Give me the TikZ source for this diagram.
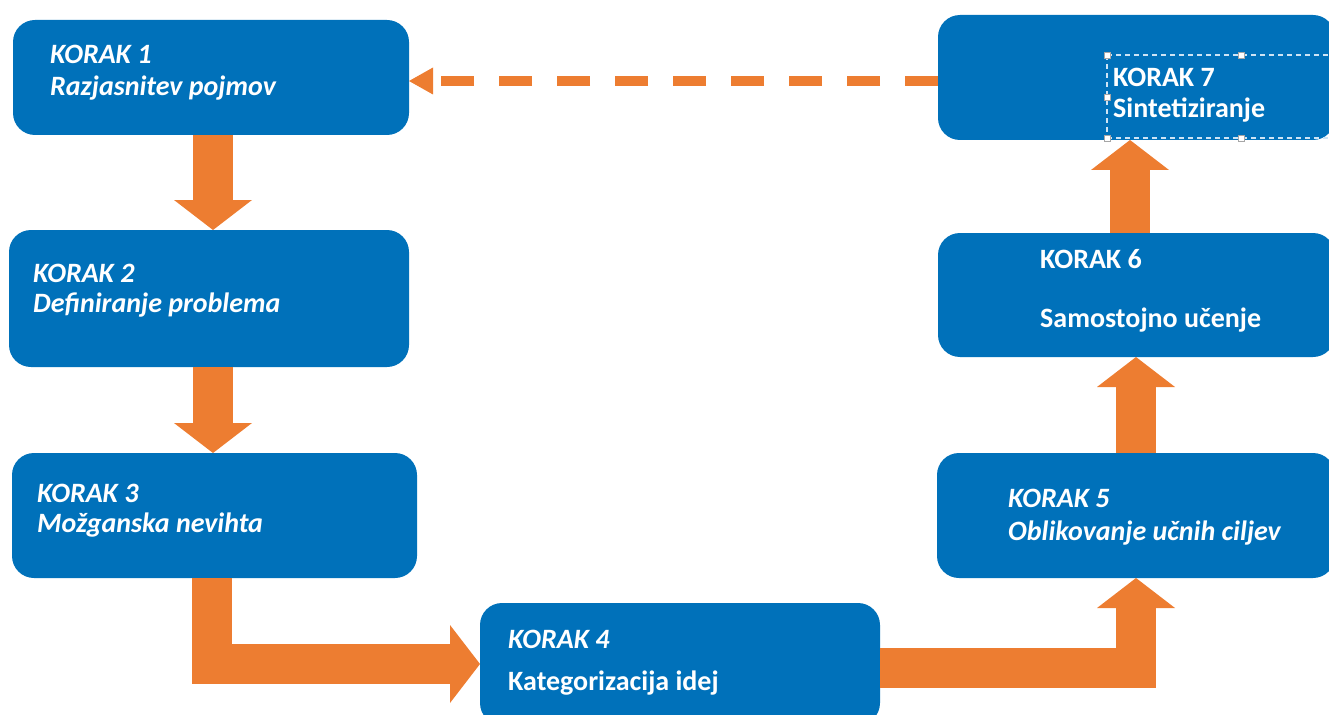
\documentclass[tikz,border=0pt]{standalone}
\usepackage{fontspec}
\setmainfont{Carlito}
\usetikzlibrary{arrows.meta,calc}
\definecolor{boxblue}{RGB}{0,113,186}
\definecolor{arrorange}{RGB}{237,125,49}
\definecolor{selline}{RGB}{205,228,245}
\tikzset{
  stepbox/.style={fill=boxblue, draw=none, rounded corners=22pt, inner sep=0pt, outer sep=0pt},
  lbl/.style={anchor=base west, inner sep=0pt, text=white, font=\fontsize{28}{34}\selectfont\bfseries},
  lbli/.style={lbl, font=\fontsize{28}{34}\selectfont\bfseries\itshape},
  bigarrow/.style={draw=arrorange, line width=40pt, -{Triangle[length=30pt,width=78pt,line width=0pt]}},
  dasharrow/.style={draw=arrorange, line width=10pt, dash pattern=on 33pt off 25pt, -{Triangle[length=24pt,width=27pt,line width=0pt]}},
  handle/.style={draw=gray!70, fill=white, line width=0.8pt, minimum size=6pt, inner sep=0pt}
}
\begin{document}
\begin{tikzpicture}[x=1pt,y=-1pt]
\useasboundingbox (0,0) rectangle (1329,714);
% boxes
\node[stepbox, minimum width=396pt, minimum height=115pt] (b1) at (211,77.5) {};
\node[stepbox, minimum width=400pt, minimum height=137pt] (b2) at (209,298.5) {};
\node[stepbox, minimum width=405pt, minimum height=125pt] (b3) at (214.5,515.5) {};
\node[stepbox, minimum width=400pt, minimum height=122pt] (b4) at (680,664) {};
\node[stepbox, minimum width=398pt, minimum height=125pt] (b5) at (1136,515.5) {};
\node[stepbox, minimum width=397pt, minimum height=124pt] (b6) at (1136.5,295) {};
\node[stepbox, minimum width=397pt, minimum height=125pt] (b7) at (1136.5,77.5) {};
% texts
\node[lbli] (t1a) at (50,64) {KORAK 1};
\node[lbli] (t1b) at (50,96) {Razjasnitev pojmov};
\node[lbli] (t2a) at (33,282) {KORAK 2};
\node[lbli] (t2b) at (33,312) {Definiranje problema};
\node[lbli] (t3a) at (37,502) {KORAK 3};
\node[lbli] (t3b) at (37,532) {Možganska nevihta};
\node[lbli] (t4a) at (508,648) {KORAK 4};
\node[lbl]  (t4b) at (508,690) {Kategorizacija idej};
\node[lbli] (t5a) at (1008,507) {KORAK 5};
\node[lbli] (t5b) at (1008,540) {Oblikovanje učnih ciljev};
\node[lbl]  (t6a) at (1040,268) {KORAK 6};
\node[lbl]  (t6b) at (1040,327) {Samostojno učenje};
\node[lbl]  (t7a) at (1113,87) {KORAK 7};
\node[lbl]  (t7b) at (1113,118) {Sintetiziranje};
% selection frame
\draw[selline, line width=1.3pt, dash pattern=on 5pt off 4pt] (1107,55) -- (1340,55);
\draw[selline, line width=1.3pt, dash pattern=on 5pt off 4pt] (1107,138) -- (1340,138);
\draw[selline, line width=1.3pt, dash pattern=on 5pt off 4pt] (1107,55) -- (1107,138);
\node[handle] (h1) at (1107,55) {};
\node[handle] (h2) at (1241,55) {};
\node[handle] (h3) at (1107,97) {};
\node[handle] (h4) at (1107,138) {};
\node[handle] (h5) at (1241,138) {};
% arrow x positions
\coordinate (x12) at (213,0);
\coordinate (x34) at (212,0);
\coordinate (x56) at (1136,0);
\coordinate (x67) at (1130,0);
\coordinate (y45) at (0,668);
\coordinate (y71) at (0,81);
\coordinate (e45) at (b4.east |- y45);
% block arrows
\draw[bigarrow] (b1.south -| x12) -- (b2.north -| x12);
\draw[bigarrow] (b2.south -| x12) -- (b3.north -| x12);
\draw[bigarrow] (b3.south -| x34) |- (b4.west);
\draw[bigarrow] (e45) -| (b5.south -| x56);
\draw[bigarrow] (b5.north -| x56) -- (b6.south -| x56);
\draw[bigarrow] (b6.north -| x67) -- (b7.south -| x67);
% dashed feedback arrow
\draw[dasharrow] (b7.west |- y71) -- (b1.east |- y71);
\end{tikzpicture}
\end{document}
